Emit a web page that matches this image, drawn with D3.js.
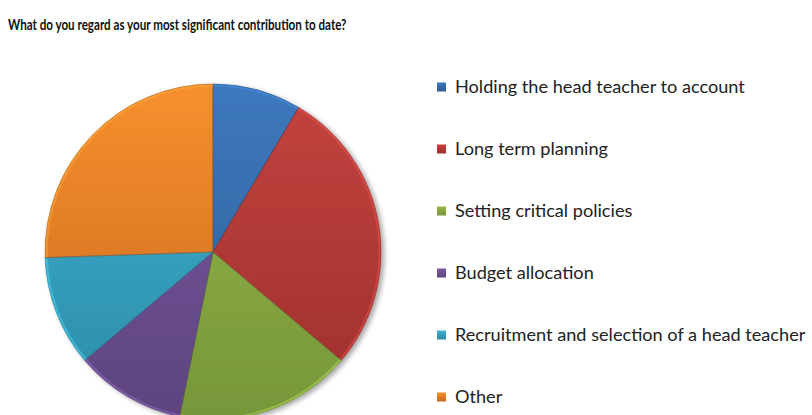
<!DOCTYPE html>
<html>
<head>
<meta charset="utf-8">
<script src="https://cdn.jsdelivr.net/npm/d3@7"></script>
<style>
  html, body { margin: 0; padding: 0; background: #fff; }
  svg { display: block; }
</style>
</head>
<body>
<svg id="chart" width="812" height="415"></svg>
<script>
// Survey responses
const title = "What do you regard as your most significant contribution to date?";
const categories = [
  "Holding the head teacher to account",
  "Long term planning",
  "Setting critical policies",
  "Budget allocation",
  "Recruitment and selection of a head teacher",
  "Other"
];
const responses = [4, 13, 8, 5, 5, 12];
// light (top) and dark (bottom) shade of each slice colour
const lightColors = ["#3d78bd", "#c4433f", "#95b846", "#7b5ca0", "#3fb3d2", "#f88f2e"];
const darkColors  = ["#2d5c96", "#9c2f2c", "#76963a", "#5d4380", "#2a8aa6", "#c8681f"];

const svg = d3.select("#chart");
const font = "Lato, 'Open Sans', sans-serif";

// condensed bold title: squeeze horizontally to the title's width
const titleText = svg.append("text")
  .attr("font-family", font)
  .attr("font-weight", "bold")
  .attr("font-size", 15)
  .attr("fill", "#111")
  .text(title);
const tw = titleText.node().getComputedTextLength();
titleText.attr("transform", `translate(8,30) scale(${(339 / tw).toFixed(4)},1)`);

const cx = 213, cy = 252, r = 168;
const defs = svg.append("defs");

categories.forEach((c, i) => {
  const g = defs.append("linearGradient")
    .attr("id", "grad" + i)
    .attr("gradientUnits", "userSpaceOnUse")
    .attr("x1", 0).attr("y1", -r)
    .attr("x2", 0).attr("y2", r);
  g.append("stop").attr("offset", "0%").attr("stop-color", lightColors[i]);
  g.append("stop").attr("offset", "100%").attr("stop-color", darkColors[i]);
  const lgd = defs.append("linearGradient").attr("id", "lg" + i)
    .attr("x1", 0).attr("y1", 0).attr("x2", 0).attr("y2", 1);
  lgd.append("stop").attr("offset", "0%").attr("stop-color", lightColors[i]);
  lgd.append("stop").attr("offset", "100%").attr("stop-color", darkColors[i]);
});

const shadow = defs.append("filter").attr("id", "shadow")
  .attr("x", "-10%").attr("y", "-10%").attr("width", "130%").attr("height", "130%");
shadow.append("feGaussianBlur").attr("in", "SourceAlpha").attr("stdDeviation", 2.5);
shadow.append("feOffset").attr("dx", 3).attr("dy", 2).attr("result", "b");
shadow.append("feComponentTransfer").append("feFuncA").attr("type", "linear").attr("slope", 0.35);
const merge = shadow.append("feMerge");
merge.append("feMergeNode");
merge.append("feMergeNode").attr("in", "SourceGraphic");

const pie = d3.pie().sort(null).value(d => d);
const arc = d3.arc().innerRadius(0).outerRadius(r);
const rim = d3.arc().innerRadius(r - 2.5).outerRadius(r);

const pg = svg.append("g")
  .attr("transform", `translate(${cx},${cy})`)
  .attr("filter", "url(#shadow)");

const arcs = pie(responses);

// gradient-filled slices
pg.selectAll("path.slice")
  .data(arcs)
  .join("path")
  .attr("class", "slice")
  .attr("d", arc)
  .attr("fill", (d, i) => `url(#grad${i})`);

// soft bevel: light rim along the outside plus darker seams between slices
arcs.forEach((a, i) => {
  pg.append("path")
    .attr("d", rim(a))
    .attr("fill", d3.color(lightColors[i]).brighter(0.6))
    .attr("opacity", 0.45);
  pg.append("path")
    .attr("d", arc(a))
    .attr("fill", "none")
    .attr("stroke", d3.color(darkColors[i]).darker(0.6))
    .attr("stroke-opacity", 0.5)
    .attr("stroke-width", 1);
});

// legend
const legendY = d3.scalePoint().domain(categories).range([87, 397]);
const lg = svg.append("g");
const labels = [];
categories.forEach((c, i) => {
  const y = legendY(c);
  lg.append("rect")
    .attr("x", 437).attr("y", y - 4.5)
    .attr("width", 9).attr("height", 9)
    .attr("fill", `url(#lg${i})`);
  labels.push(lg.append("text")
    .attr("x", 455).attr("y", y)
    .attr("dy", "0.35em")
    .attr("font-family", font)
    .attr("font-size", 16)
    .attr("fill", "#222")
    .text(c));
});
// size legend text so the first label spans its measured width
const w0 = labels[0].node().getComputedTextLength();
const legendSize = (16 * 290 / w0).toFixed(2);
labels.forEach(t => t.attr("font-size", legendSize));
</script>
</body>
</html>
